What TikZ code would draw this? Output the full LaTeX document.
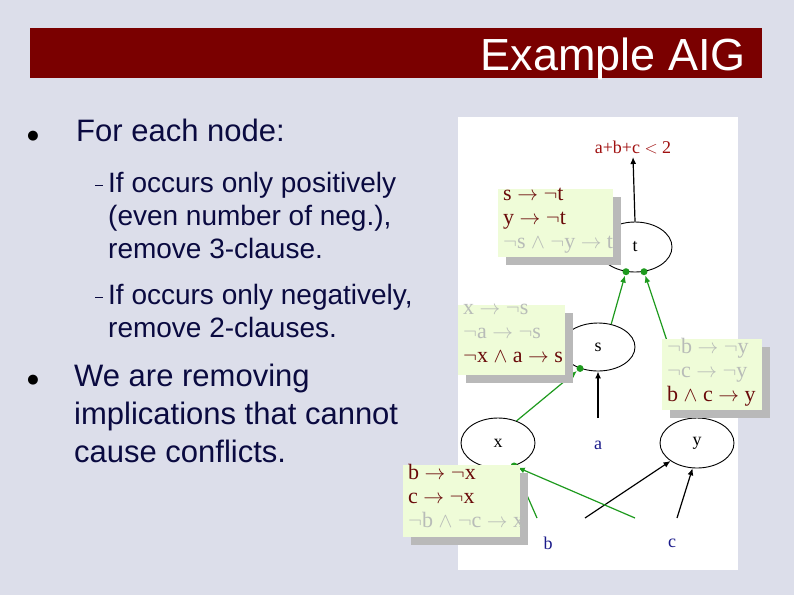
\documentclass[tikz,border=0pt]{standalone}
\usepackage{fontspec}
\setmainfont{Liberation Sans}
\newfontfamily\serif{Liberation Serif}
\newfontfamily\dejavu{DejaVu Sans}
\usetikzlibrary{arrows.meta,shapes.geometric}
\definecolor{hdr}{HTML}{7A0000}
\definecolor{bg}{HTML}{DCDEEA}
\definecolor{navy}{HTML}{0A0A40}
\definecolor{boxg}{HTML}{EFFCD8}
\definecolor{dred}{HTML}{6A0A0A}
\definecolor{lgray}{HTML}{B8BCB8}
\definecolor{gedge}{HTML}{1E9A1E}
\definecolor{lblue}{HTML}{1A1A8A}
\definecolor{lred}{HTML}{A01010}
\tikzset{
 gate/.style={draw,line width=0.9pt,ellipse,minimum width=74pt,minimum height=50pt,inner sep=0pt,font=\serif\fontsize{18}{18}\selectfont},
 inp/.style={font=\serif\fontsize{18}{18}\selectfont,text=lblue},
 gline/.style={draw=gedge,line width=1.2pt,-{Latex[length=7pt,width=6pt]},shorten >=4pt},
 bline/.style={draw=black,line width=1.2pt,-{Latex[length=7pt,width=6pt]}},
 dot/.style={circle,fill=gedge,inner sep=0pt,minimum size=7pt},
 btxt/.style={font=\serif\fontsize{22}{24}\selectfont,align=left,anchor=north west,inner sep=0pt},
 ln/.style={font=\fontsize{28}{28}\selectfont,text=navy,anchor=base west,inner sep=0pt},
 lnb/.style={font=\fontsize{31}{31}\selectfont,text=navy,anchor=base west,inner sep=0pt},
 bul/.style={font=\dejavu\fontsize{13}{13}\selectfont,text=black},
 dsh/.style={draw=navy,line width=0.8pt}
}
\newcommand{\implbox}[6]{%
 \fill[gray!55] (#2+8,-#3-8) rectangle (#4+8,-#5-8);
 \fill[boxg] (#2,-#3) rectangle (#4,-#5);
 \node[btxt] (#1) at (#2+5,-#3+1) {#6};
}
\newcommand{\Dn}[1]{\textcolor{dred}{#1}}
\newcommand{\Lg}[1]{\textcolor{lgray}{#1}}
\newcommand{\myAR}{$\rightarrow$}
\newcommand{\myNG}{$\neg$}
\newcommand{\myAN}{$\wedge$}
\begin{document}
\begin{tikzpicture}[x=1pt,y=1pt]
\useasboundingbox (0,0) rectangle (794,-595);
\fill[bg] (0,0) rectangle (794,-595);
\fill[hdr] (30,-28) rectangle (762,-78);
\node[anchor=base east,text=white,font=\fontsize{45}{45}\selectfont,inner sep=0pt] (title) at (746,-70) {Example AIG};
\node[bul] (b1) at (33,-136) {●};
\node[ln,font=\fontsize{31}{31}\selectfont] (t1) at (76,-141) {For each node:};
\coordinate (d1a) at (95,-185); \coordinate (d1b) at (103,-185);
\draw[dsh] (d1a) -- (d1b);
\node[ln] (t2a) at (108,-192) {If occurs only positively};
\node[ln] (t2b) at (108,-225) {(even number of neg.),};
\node[ln] (t2c) at (108,-258) {remove 3-clause.};
\coordinate (d2a) at (95,-297); \coordinate (d2b) at (103,-297);
\draw[dsh] (d2a) -- (d2b);
\node[ln] (t3a) at (108,-304) {If occurs only negatively,};
\node[ln] (t3b) at (108,-337) {remove 2-clauses.};
\node[bul] (b2) at (33,-380) {●};
\node[lnb] (t4a) at (74,-386) {We are removing};
\node[lnb] (t4b) at (74,-424) {implications that cannot};
\node[lnb] (t4c) at (74,-462) {cause conflicts.};
\fill[white] (458,-117) rectangle (738,-570);
\node[font=\serif\fontsize{18}{18}\selectfont,text=lred] (goal) at (633,-147) {a+b+c $<$ 2};
\node[gate] (t) at (635,-247) {t};
\node[gate,minimum height=48pt] (s) at (598,-347) {s};
\node[gate] (x) at (498,-443) {x};
\node[gate] (y) at (697,-443) {y};
\node[inp] (a) at (598,-445) {a};
\node[inp] (b) at (548,-543) {b};
\node[inp] (c) at (672,-543) {c};
\coordinate (ta) at (598,-418);
\coordinate (bs) at (537,-518);
\coordinate (bs2) at (585,-518);
\coordinate (cs) at (635,-518);
\coordinate (cs2) at (677,-518);
\draw[bline] (t.north) -- (goal.south);
\draw[bline] (ta) -- (s.south);
\draw[bline] (bs2) -- (y.south west);
\draw[bline] (cs2) -- (y.-100);
\draw[gline] (s.60) -- (t.-110);
\node[dot] at (t.-110) {};
\draw[gline] (y.100) -- (t.-70);
\node[dot] at (t.-70) {};
\draw[gline] (x.50) -- (s.-130);
\node[dot] at (s.-130) {};
\draw[gline] (cs) -- (x.-55);
\draw[gline] (bs) -- (x.-55);
\node[dot] at (x.-55) {};
\implbox{i1}{498}{189}{613}{257}{\Dn{s \myAR\ \myNG t}\\\Dn{y \myAR\ \myNG t}\\\Lg{\myNG s \myAN\ \myNG y \myAR\ t}}
\implbox{i2}{458}{305}{565}{375}{\Lg{x \myAR\ \myNG s}\\\Lg{\myNG a \myAR\ \myNG s}\\\Dn{\myNG x \myAN\ a \myAR\ s}}
\implbox{i3}{662}{339}{762}{410}{\Lg{\myNG b \myAR\ \myNG y}\\\Lg{\myNG c \myAR\ \myNG y}\\\Dn{b \myAN\ c \myAR\ y}}
\implbox{i4}{403}{465}{520}{537}{\Dn{b \myAR\ \myNG x}\\\Dn{c \myAR\ \myNG x}\\\Lg{\myNG b \myAN\ \myNG c \myAR\ x}}
\end{tikzpicture}
\end{document}
